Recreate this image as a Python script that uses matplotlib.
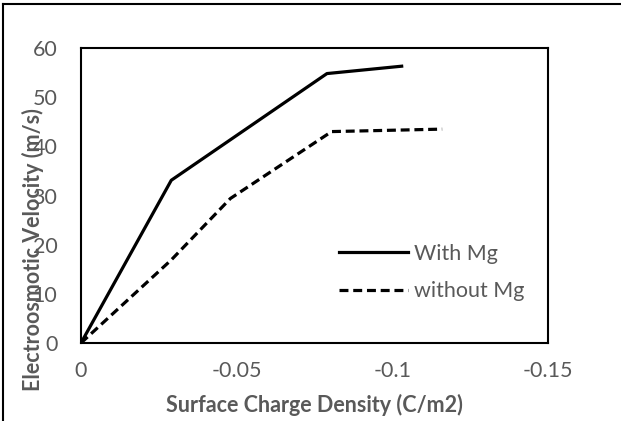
import numpy as np
import matplotlib
matplotlib.use('Agg')
import matplotlib.pyplot as plt

plt.rcParams['font.family'] = ['Lato', 'DejaVu Sans']

# data
x_with = [0, -0.029, -0.079, -0.103]
y_with = [0, 33.1, 54.8, 56.3]
x_without = [0, -0.029, -0.048, -0.0805, -0.116]
y_without = [0, 16.9, 29.4, 43.0, 43.5]
xticks = [0, -0.05, -0.1, -0.15]
xticklabels = ['0', '-0.05', '-0.1', '-0.15']
yticks = [0, 10, 20, 30, 40, 50, 60]

grey = '#595959'
fs = 15.5

fig = plt.figure(figsize=(6.21, 4.21), dpi=100)
ax = fig.add_axes([81/621, 1-343/421, 467/621, 295/421])

ax.plot(x_with, y_with, color='black', lw=2.3, label='With Mg')
ax.plot(x_without, y_without, color='black', lw=2.3, ls=(0, (2.8, 1.5)), label='without Mg')

ax.set_xlim(0, -0.15)
ax.set_ylim(0, 60)
ax.set_xticks(xticks)
ax.set_xticklabels(xticklabels)
ax.set_yticks(yticks)
ax.tick_params(length=0, labelsize=fs, labelcolor=grey)
ax.tick_params(axis='y', pad=17)
ax.tick_params(axis='x', pad=13)
for s in ax.spines.values():
    s.set_linewidth(1.5)
    s.set_color('black')

ax.legend(frameon=False, loc='upper left', bbox_to_anchor=(0.552, 0.337),
          borderpad=0, borderaxespad=0,
          fontsize=fs, labelcolor=grey, handlelength=3.2, handletextpad=0.3,
          labelspacing=0.83)

fig.text(314/621, 1-405/421, 'Surface Charge Density (C/m2)', ha='center', va='center',
         fontsize=fs, fontweight='bold', color=grey)
fig.text(33/621, 1-250/421, 'Electroosmotic Velocity (m/s)', ha='center', va='center',
         rotation=90, fontsize=fs, fontweight='bold', color=grey)

# partial outer frame (left and top)
fig.add_artist(plt.Line2D([3/621, 3/621], [0, 1-4/421], color='black', lw=1.5))
fig.add_artist(plt.Line2D([3/621, 1], [1-4/421, 1-4/421], color='black', lw=1.5))

plt.savefig('out.png')
